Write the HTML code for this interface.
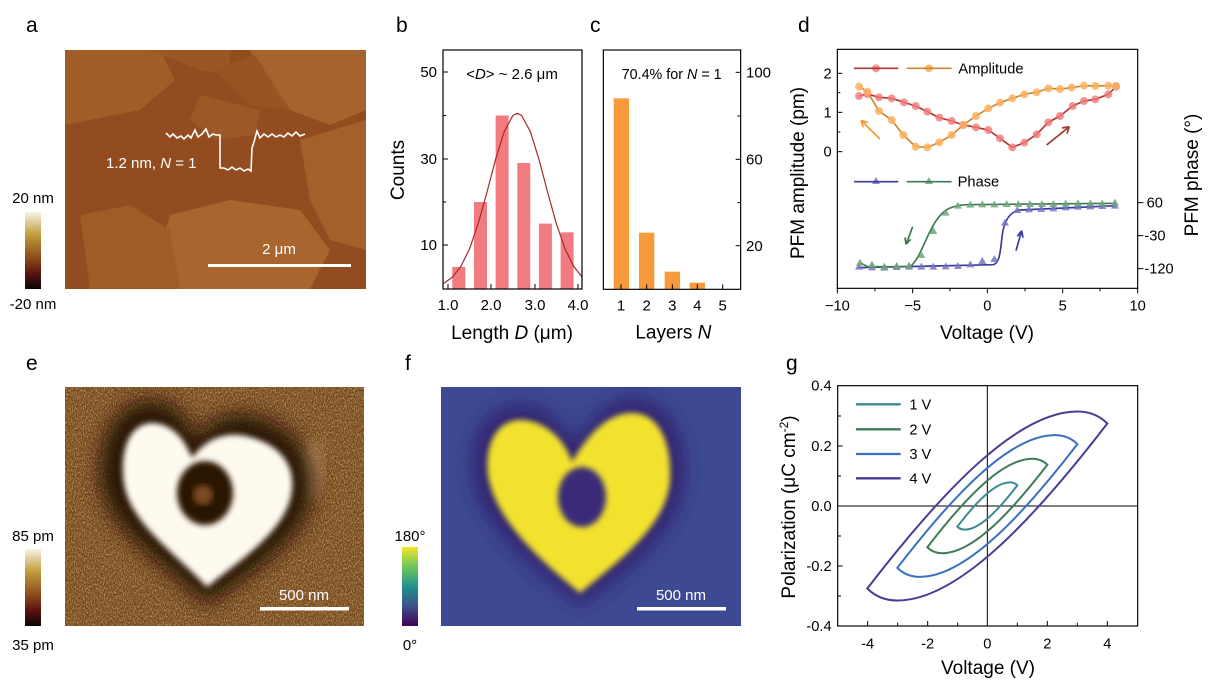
<!DOCTYPE html>
<html><head><meta charset="utf-8"><style>
html,body{margin:0;padding:0;background:#fff;}
svg{display:block;font-family:"Liberation Sans",Arial,sans-serif;}
</style></head><body>
<svg width="1214" height="695" viewBox="0 0 1214 695" xmlns="http://www.w3.org/2000/svg">
<defs>
<linearGradient id="cbA" x1="0" y1="0" x2="0" y2="1">
<stop offset="0" stop-color="#f8f3e6"/><stop offset="0.3" stop-color="#c09a3a"/><stop offset="0.6" stop-color="#8a4a1c"/><stop offset="0.8" stop-color="#5a1410"/><stop offset="1" stop-color="#080404"/>
</linearGradient>
<linearGradient id="cbV" x1="0" y1="0" x2="0" y2="1">
<stop offset="0" stop-color="#f3e52a"/><stop offset="0.25" stop-color="#6cc85a"/><stop offset="0.5" stop-color="#22918c"/><stop offset="0.75" stop-color="#3b528b"/><stop offset="1" stop-color="#440154"/>
</linearGradient>
<filter id="bl6"><feGaussianBlur stdDeviation="6"/></filter>
<filter id="bl3"><feGaussianBlur stdDeviation="3"/></filter>
<filter id="bl10"><feGaussianBlur stdDeviation="10"/></filter>
<filter id="noise" x="0" y="0" width="100%" height="100%">
<feTurbulence type="fractalNoise" baseFrequency="0.9 0.5" numOctaves="2" seed="3"/>
<feColorMatrix type="matrix" values="0 0 0 0 0.85  0 0 0 0 0.65  0 0 0 0 0.35  0 0 0 1.4 -0.55"/>
</filter>
<clipPath id="cpA"><rect x="65" y="50" width="301" height="239"/></clipPath>
<clipPath id="cpE"><rect x="65" y="387" width="299" height="239"/></clipPath>
<clipPath id="cpF"><rect x="441" y="387" width="300" height="239"/></clipPath>
<path id="tri" d="M0,-12 L12,9 L-12,9Z"/>
</defs>

<!-- panel labels -->
<g font-size="21" fill="#000">
<text x="26" y="32">a</text><text x="396" y="32">b</text><text x="590" y="32">c</text><text x="798" y="32">d</text>
<text x="26" y="370">e</text><text x="405" y="370">f</text><text x="786" y="370">g</text>
</g>

<!-- ===== a ===== -->
<g clip-path="url(#cpA)">
<rect x="65" y="50" width="301" height="239" fill="#924c1f"/>
<polygon points="65,50 160,50 175,80 140,110 65,125" fill="#a25c28"/>
<polygon points="150,50 230,50 230,75 200,70" fill="#9c5524"/>
<polygon points="250,50 366,50 366,110 330,125 290,110 265,80" fill="#a7632d"/>
<polygon points="300,140 366,120 366,250 330,240 310,200" fill="#a3602b"/>
<polygon points="170,215 230,200 300,210 330,250 310,289 175,289 160,250" fill="#a9652e"/>
<polygon points="80,215 130,205 170,230 180,289 90,289" fill="#a05b27"/>
<polygon points="200,95 260,110 255,135 215,140 190,120" fill="#9e5826"/>
<polygon points="215,70 255,55 290,110 250,105" fill="#9a5323"/>
</g>
<polyline fill="none" stroke="#fff" stroke-width="1.6" points="166,133 170,137 173,134 177,138 181,136 184,139 188,135 191,138 195,130 198,137 202,134 206,129 209,137 213,134 216,135 220,135 220,168 224,168 228,170 232,167 236,170 240,168 244,171 248,169 251,171 252,148 254,142 257,131 260,138 264,134 268,137 272,134 276,137 280,135 284,137 288,133 292,136 296,132 300,136 305,134"/>
<text x="106" y="168" font-size="15" fill="#fff">1.2 nm, <tspan font-style="italic">N</tspan> = 1</text>
<rect x="208" y="264" width="143" height="3" fill="#fff"/>
<text x="279" y="254" font-size="15" fill="#fff" text-anchor="middle">2 μm</text>
<rect x="25" y="212" width="16" height="77" fill="url(#cbA)"/>
<text x="33" y="203" font-size="15" text-anchor="middle">20 nm</text>
<text x="33" y="309" font-size="15" text-anchor="middle">-20 nm</text>

<!-- ===== b ===== -->
<g fill="#f27b80">
<rect x="452.3" y="267" width="13" height="22"/>
<rect x="474" y="202" width="13" height="87"/>
<rect x="495.6" y="115.5" width="13" height="173.5"/>
<rect x="517.3" y="163" width="13" height="126"/>
<rect x="538.9" y="223.6" width="13" height="65.4"/>
<rect x="560.6" y="232.3" width="13" height="56.7"/>
</g>
<polyline fill="none" stroke="#a52a2a" stroke-width="1.2" points="443.7,283.4 452.3,277.3 461,266.2 469.7,248.5 478.3,223.2 487,192.1 495.6,159.2 504.3,131.5 512.9,115.5 517.3,113.3 521.6,115.5 530.3,131.5 538.9,159.2 547.6,192.1 556.2,223.2 564.9,248.5 573.6,266.2 582.2,277.3"/>
<rect x="443" y="50" width="139" height="239" fill="none" stroke="#000" stroke-width="1.2"/>
<g stroke="#000" stroke-width="1">
<line x1="443" y1="72" x2="448" y2="72"/><line x1="443" y1="159" x2="448" y2="159"/><line x1="443" y1="245" x2="448" y2="245"/>
<line x1="443" y1="115.5" x2="446" y2="115.5"/><line x1="443" y1="202" x2="446" y2="202"/>
<line x1="448" y1="289" x2="448" y2="284"/><line x1="491" y1="289" x2="491" y2="284"/><line x1="535" y1="289" x2="535" y2="284"/><line x1="578" y1="289" x2="578" y2="284"/>
</g>
<g font-size="15" text-anchor="end"><text x="437" y="77">50</text><text x="437" y="164">30</text><text x="437" y="250">10</text></g>
<g font-size="15" text-anchor="middle"><text x="448" y="310">1.0</text><text x="491" y="310">2.0</text><text x="535" y="310">3.0</text><text x="578" y="310">4.0</text></g>
<text x="512" y="79" font-size="15" text-anchor="middle">&lt;<tspan font-style="italic">D</tspan>&gt; ~ 2.6 μm</text>
<text transform="translate(404,170) rotate(-90)" font-size="19" text-anchor="middle">Counts</text>
<text x="512" y="339" font-size="19" text-anchor="middle">Length <tspan font-style="italic">D</tspan> (μm)</text>

<!-- ===== c ===== -->
<g transform="translate(590,40) scale(0.33333)">
<g fill="#f69a3c">
<rect x="71" y="175" width="46" height="573"/><rect x="147" y="578" width="46" height="170"/><rect x="224" y="695" width="46" height="53"/><rect x="299" y="728" width="46" height="20"/>
</g>
<rect x="40" y="30" width="412" height="718" fill="none" stroke="#000" stroke-width="3.5"/>
<g stroke="#000" stroke-width="3">
<line x1="452" y1="97" x2="437" y2="97"/><line x1="452" y1="358" x2="437" y2="358"/><line x1="452" y1="617" x2="437" y2="617"/>
<line x1="452" y1="228" x2="442" y2="228"/><line x1="452" y1="488" x2="442" y2="488"/>
<line x1="93" y1="748" x2="93" y2="733"/><line x1="170" y1="748" x2="170" y2="733"/><line x1="247" y1="748" x2="247" y2="733"/><line x1="322" y1="748" x2="322" y2="733"/><line x1="398" y1="748" x2="398" y2="733"/>
</g>
<g font-size="45"><text x="468" y="113">100</text><text x="468" y="374">60</text><text x="468" y="633">20</text></g>
<g font-size="45" text-anchor="middle"><text x="93" y="812">1</text><text x="170" y="812">2</text><text x="247" y="812">3</text><text x="322" y="812">4</text><text x="398" y="812">5</text></g>
<text x="245" y="117" font-size="43" text-anchor="middle">70.4% for <tspan font-style="italic">N</tspan> = 1</text>
<text x="250" y="896" font-size="57" text-anchor="middle">Layers <tspan font-style="italic">N</tspan></text>
</g>

<!-- ===== d ===== -->
<g transform="translate(780,40) scale(0.33333)">
<rect x="172" y="28" width="901" height="717" fill="none" stroke="#000" stroke-width="3.5"/>
<g stroke="#000" stroke-width="3">
<line x1="172" y1="100" x2="187" y2="100"/><line x1="172" y1="217" x2="187" y2="217"/><line x1="172" y1="335" x2="187" y2="335"/>
<line x1="172" y1="158" x2="181" y2="158"/><line x1="172" y1="276" x2="181" y2="276"/>
<line x1="1073" y1="488" x2="1090" y2="488"/><line x1="1073" y1="587" x2="1090" y2="587"/><line x1="1073" y1="686" x2="1090" y2="686"/>
<line x1="172" y1="745" x2="172" y2="760"/><line x1="398" y1="745" x2="398" y2="760"/><line x1="622" y1="745" x2="622" y2="760"/><line x1="848" y1="745" x2="848" y2="760"/><line x1="1073" y1="745" x2="1073" y2="760"/>
<line x1="285" y1="745" x2="285" y2="754"/><line x1="510" y1="745" x2="510" y2="754"/><line x1="735" y1="745" x2="735" y2="754"/><line x1="960" y1="745" x2="960" y2="754"/>
</g>
<g font-size="44" text-anchor="end"><text x="155" y="115">2</text><text x="155" y="232">1</text><text x="155" y="350">0</text></g>
<g font-size="44"><text x="1100" y="503">60</text><text x="1093" y="602">-30</text><text x="1093" y="701">-120</text></g>
<g font-size="44" text-anchor="middle"><text x="172" y="812">−10</text><text x="398" y="812">−5</text><text x="622" y="812">0</text><text x="848" y="812">5</text><text x="1073" y="812">10</text></g>
<polyline fill="none" stroke="#b03434" stroke-width="5" points="237,168 262,162 297,172 335,175 372,187 407,198 442,215 478,233 515,243 550,255 588,262 625,270 660,295 697,322 733,308 770,283 805,247 840,228 878,198 912,183 946,178 985,163 1008,140"/>
<polyline fill="none" stroke="#c8882c" stroke-width="5" points="237,140 262,155 297,213 335,240 370,285 407,320 442,322 478,307 515,285 550,255 588,228 625,205 660,188 697,175 733,163 770,157 805,145 840,147 875,143 912,137 946,138 985,137 1008,138"/>
<g fill="#f07a7a" fill-opacity="0.8">
<circle cx="237" cy="168" r="12"/><circle cx="262" cy="162" r="12"/><circle cx="297" cy="172" r="12"/><circle cx="335" cy="175" r="12"/><circle cx="372" cy="187" r="12"/><circle cx="407" cy="198" r="12"/><circle cx="442" cy="215" r="12"/><circle cx="478" cy="233" r="12"/><circle cx="515" cy="243" r="12"/><circle cx="550" cy="255" r="12"/><circle cx="588" cy="262" r="12"/><circle cx="625" cy="270" r="12"/><circle cx="660" cy="295" r="12"/><circle cx="697" cy="322" r="12"/><circle cx="733" cy="308" r="12"/><circle cx="770" cy="283" r="12"/><circle cx="805" cy="247" r="12"/><circle cx="840" cy="228" r="12"/><circle cx="878" cy="198" r="12"/><circle cx="912" cy="183" r="12"/><circle cx="946" cy="178" r="12"/><circle cx="985" cy="163" r="12"/><circle cx="1008" cy="140" r="12"/>
<circle cx="288" cy="85" r="12"/>
</g>
<g fill="#f9b060" fill-opacity="0.85">
<circle cx="237" cy="140" r="12"/><circle cx="262" cy="155" r="12"/><circle cx="297" cy="213" r="12"/><circle cx="335" cy="240" r="12"/><circle cx="370" cy="285" r="12"/><circle cx="407" cy="320" r="12"/><circle cx="442" cy="322" r="12"/><circle cx="478" cy="307" r="12"/><circle cx="515" cy="285" r="12"/><circle cx="550" cy="255" r="12"/><circle cx="588" cy="228" r="12"/><circle cx="625" cy="205" r="12"/><circle cx="660" cy="188" r="12"/><circle cx="697" cy="175" r="12"/><circle cx="733" cy="163" r="12"/><circle cx="770" cy="157" r="12"/><circle cx="805" cy="145" r="12"/><circle cx="840" cy="147" r="12"/><circle cx="875" cy="143" r="12"/><circle cx="912" cy="137" r="12"/><circle cx="946" cy="138" r="12"/><circle cx="985" cy="137" r="12"/><circle cx="1008" cy="138" r="12"/>
<circle cx="447" cy="85" r="12"/>
</g>
<line x1="222" y1="85" x2="355" y2="85" stroke="#b03434" stroke-width="5"/>
<line x1="380" y1="85" x2="515" y2="85" stroke="#c8882c" stroke-width="5"/>
<text x="535" y="100" font-size="44">Amplitude</text>
<path fill="none" stroke="#3a3a9a" stroke-width="5" d="M237,683 L640,674 C655,670 660,650 665,600 C670,540 690,515 720,510 L1008,497"/>
<path fill="none" stroke="#3b7a52" stroke-width="5" d="M240,668 L262,680 L390,680 C420,660 440,580 470,540 C490,510 510,497 560,494 L1008,490"/>
<g fill="#7474c2" fill-opacity="0.85">
<use href="#tri" x="237" y="680"/><use href="#tri" x="276" y="682"/><use href="#tri" x="313" y="683"/><use href="#tri" x="350" y="681"/><use href="#tri" x="387" y="680"/><use href="#tri" x="424" y="680"/><use href="#tri" x="460" y="680"/><use href="#tri" x="497" y="679"/><use href="#tri" x="534" y="678"/><use href="#tri" x="571" y="673"/><use href="#tri" x="607" y="663"/><use href="#tri" x="643" y="657"/><use href="#tri" x="675" y="548"/><use href="#tri" x="712" y="510"/><use href="#tri" x="747" y="508"/><use href="#tri" x="784" y="507"/><use href="#tri" x="820" y="505"/><use href="#tri" x="857" y="502"/><use href="#tri" x="894" y="500"/><use href="#tri" x="931" y="499"/><use href="#tri" x="967" y="498"/><use href="#tri" x="1005" y="497"/>
<use href="#tri" x="288" y="423"/>
</g>
<g fill="#6fa67a" fill-opacity="0.85">
<use href="#tri" x="240" y="668"/><use href="#tri" x="276" y="674"/><use href="#tri" x="313" y="680"/><use href="#tri" x="350" y="678"/><use href="#tri" x="387" y="677"/><use href="#tri" x="424" y="645"/><use href="#tri" x="460" y="573"/><use href="#tri" x="497" y="518"/><use href="#tri" x="534" y="497"/><use href="#tri" x="571" y="494"/><use href="#tri" x="607" y="493"/><use href="#tri" x="643" y="493"/><use href="#tri" x="680" y="492"/><use href="#tri" x="715" y="492"/><use href="#tri" x="750" y="492"/><use href="#tri" x="786" y="492"/><use href="#tri" x="820" y="492"/><use href="#tri" x="857" y="491"/><use href="#tri" x="894" y="490"/><use href="#tri" x="931" y="490"/><use href="#tri" x="967" y="490"/><use href="#tri" x="1005" y="488"/>
<use href="#tri" x="447" y="423"/>
</g>
<line x1="222" y1="425" x2="355" y2="425" stroke="#3a3a9a" stroke-width="5"/>
<line x1="380" y1="425" x2="515" y2="425" stroke="#3b7a52" stroke-width="5"/>
<text x="533" y="440" font-size="44">Phase</text>
<g stroke-width="5" fill="none">
<path d="M300,297 L243,241 M243,241 L250,262 M243,241 L264,248" stroke="#f39a2c"/>
<path d="M800,315 L868,260 M868,260 L846,264 M868,260 L861,281" stroke="#9e3a2a"/>
<path d="M398,560 L378,613 M378,613 L375,592 M378,613 L392,598" stroke="#3b7a52"/>
<path d="M708,632 L725,572 M725,572 L712,589 M725,572 L729,593" stroke="#3a3a9a"/>
</g>
</g>
<text transform="translate(804,173) rotate(-90)" font-size="19" text-anchor="middle">PFM amplitude (pm)</text>
<text transform="translate(1198,175) rotate(-90)" font-size="19" text-anchor="middle">PFM phase (°)</text>
<text x="987" y="339" font-size="19" text-anchor="middle">Voltage (V)</text>

<!-- ===== e ===== -->
<g clip-path="url(#cpE)">
<rect x="65" y="387" width="299" height="239" fill="#74461a"/>
<rect x="65" y="387" width="299" height="239" filter="url(#noise)"/>
<ellipse cx="312" cy="470" rx="12" ry="30" fill="#c8a070" opacity="0.6" filter="url(#bl6)"/>
<path d="M207,605 C160,560 100,525 100,475 C100,425 125,400 152,400 C175,400 190,420 195,440 C210,418 230,410 255,416 C295,425 318,460 312,495 C305,540 248,575 207,605 Z" fill="#1e0e04" opacity="0.9" filter="url(#bl10)"/>
<path d="M207,587 C170,548 125,520 123,475 C121,440 135,423 152,423 C172,423 185,440 192,458 C205,440 225,430 250,437 C280,445 295,465 292,490 C288,530 240,560 207,587 Z" fill="#fffaf0" filter="url(#bl3)"/>
<ellipse cx="205" cy="493" rx="28" ry="32" fill="#2a1406" filter="url(#bl3)"/>
<ellipse cx="203" cy="495" rx="10" ry="10" fill="#7a4a22" filter="url(#bl3)"/>
</g>
<rect x="260" y="607" width="89" height="3.5" fill="#fff"/>
<text x="304" y="600" font-size="15" fill="#fff" text-anchor="middle">500 nm</text>
<rect x="25" y="549" width="16" height="77" fill="url(#cbA)"/>
<text x="33" y="541" font-size="15" text-anchor="middle">85 pm</text>
<text x="33" y="650" font-size="15" text-anchor="middle">35 pm</text>

<!-- ===== f ===== -->
<g clip-path="url(#cpF)">
<rect x="441" y="387" width="300" height="239" fill="#3d4a93"/>
<path d="M580,606 C535,570 478,525 473,475 C469,430 492,405 520,405 C548,405 565,425 574,447 C590,420 608,398 634,398 C668,398 688,440 684,480 C680,530 630,570 580,606 Z" fill="#33216e" filter="url(#bl10)"/>
<path d="M580,593 C540,560 495,520 488,475 C484,440 500,420 520,420 C545,420 565,440 572,462 C585,440 605,413 632,413 C660,413 672,445 670,480 C667,525 620,560 580,593 Z" fill="#f2e22e" filter="url(#bl3)"/>
<ellipse cx="582" cy="497" rx="24" ry="30" fill="#3b2a78" filter="url(#bl3)"/>
</g>
<rect x="637" y="607" width="89" height="3.5" fill="#fff"/>
<text x="681" y="600" font-size="15" fill="#fff" text-anchor="middle">500 nm</text>
<rect x="402" y="547" width="16" height="79" fill="url(#cbV)"/>
<text x="410" y="541" font-size="15" text-anchor="middle">180°</text>
<text x="410" y="650" font-size="15" text-anchor="middle">0°</text>

<!-- ===== g ===== -->
<g transform="translate(770,370) scale(0.33333)">
<rect x="203" y="47" width="900" height="721" fill="none" stroke="#000" stroke-width="3.5"/>
<line x1="652" y1="47" x2="652" y2="768" stroke="#000" stroke-width="3"/>
<line x1="203" y1="408" x2="1103" y2="408" stroke="#000" stroke-width="3"/>
<g stroke="#000" stroke-width="3">
<line x1="203" y1="138" x2="213" y2="138"/><line x1="203" y1="228" x2="218" y2="228"/><line x1="203" y1="318" x2="213" y2="318"/><line x1="203" y1="498" x2="213" y2="498"/><line x1="203" y1="588" x2="218" y2="588"/><line x1="203" y1="678" x2="213" y2="678"/>
<line x1="293" y1="768" x2="293" y2="753"/><line x1="473" y1="768" x2="473" y2="753"/><line x1="832" y1="768" x2="832" y2="753"/><line x1="1012" y1="768" x2="1012" y2="753"/>
<line x1="383" y1="768" x2="383" y2="758"/><line x1="563" y1="768" x2="563" y2="758"/><line x1="742" y1="768" x2="742" y2="758"/><line x1="922" y1="768" x2="922" y2="758"/>
</g>
<g font-size="44" text-anchor="end"><text x="185" y="62">0.4</text><text x="185" y="243">0.2</text><text x="185" y="423">0.0</text><text x="185" y="603">-0.2</text><text x="185" y="783">-0.4</text></g>
<g font-size="44" text-anchor="middle"><text x="293" y="835">-4</text><text x="473" y="835">-2</text><text x="652" y="835">0</text><text x="832" y="835">2</text><text x="1012" y="835">4</text></g>
<g fill="none" stroke-width="6">
<path transform="translate(652,408) scale(1)" stroke="#4a3c94" d="M-360,247.5 C-135,-45 90,-283.5 270,-283.5 Q324,-283.5 360,-247.5 C135,45 -90,283.5 -270,283.5 Q-324,283.5 -360,247.5 Z"/>
<path transform="translate(652,408) scale(0.75)" stroke="#3b70c0" stroke-width="8" d="M-360,247.5 C-135,-45 90,-283.5 270,-283.5 Q324,-283.5 360,-247.5 C135,45 -90,283.5 -270,283.5 Q-324,283.5 -360,247.5 Z"/>
<path transform="translate(652,408) scale(0.5)" stroke="#3e7d58" stroke-width="12" d="M-360,247.5 C-135,-45 90,-283.5 270,-283.5 Q324,-283.5 360,-247.5 C135,45 -90,283.5 -270,283.5 Q-324,283.5 -360,247.5 Z"/>
<path transform="translate(652,408) scale(0.25)" stroke="#3f8a92" stroke-width="24" d="M-360,247.5 C-135,-45 90,-283.5 270,-283.5 Q324,-283.5 360,-247.5 C135,45 -90,283.5 -270,283.5 Q-324,283.5 -360,247.5 Z"/>
</g>
<g stroke-width="7">
<line x1="258" y1="103" x2="392" y2="103" stroke="#3f8a92"/>
<line x1="258" y1="178" x2="392" y2="178" stroke="#3e7d58"/>
<line x1="258" y1="252" x2="392" y2="252" stroke="#3b70c0"/>
<line x1="258" y1="325" x2="392" y2="325" stroke="#4a3c94"/>
</g>
<g font-size="44"><text x="418" y="118">1 V</text><text x="418" y="193">2 V</text><text x="418" y="267">3 V</text><text x="418" y="340">4 V</text></g>
</g>
<text transform="translate(795,507) rotate(-90)" font-size="19" text-anchor="middle">Polarization (μC cm<tspan font-size="12" dy="-7">-2</tspan><tspan dy="7">)</tspan></text>
<text x="988" y="674" font-size="19" text-anchor="middle">Voltage (V)</text>
</svg>
</body></html>
